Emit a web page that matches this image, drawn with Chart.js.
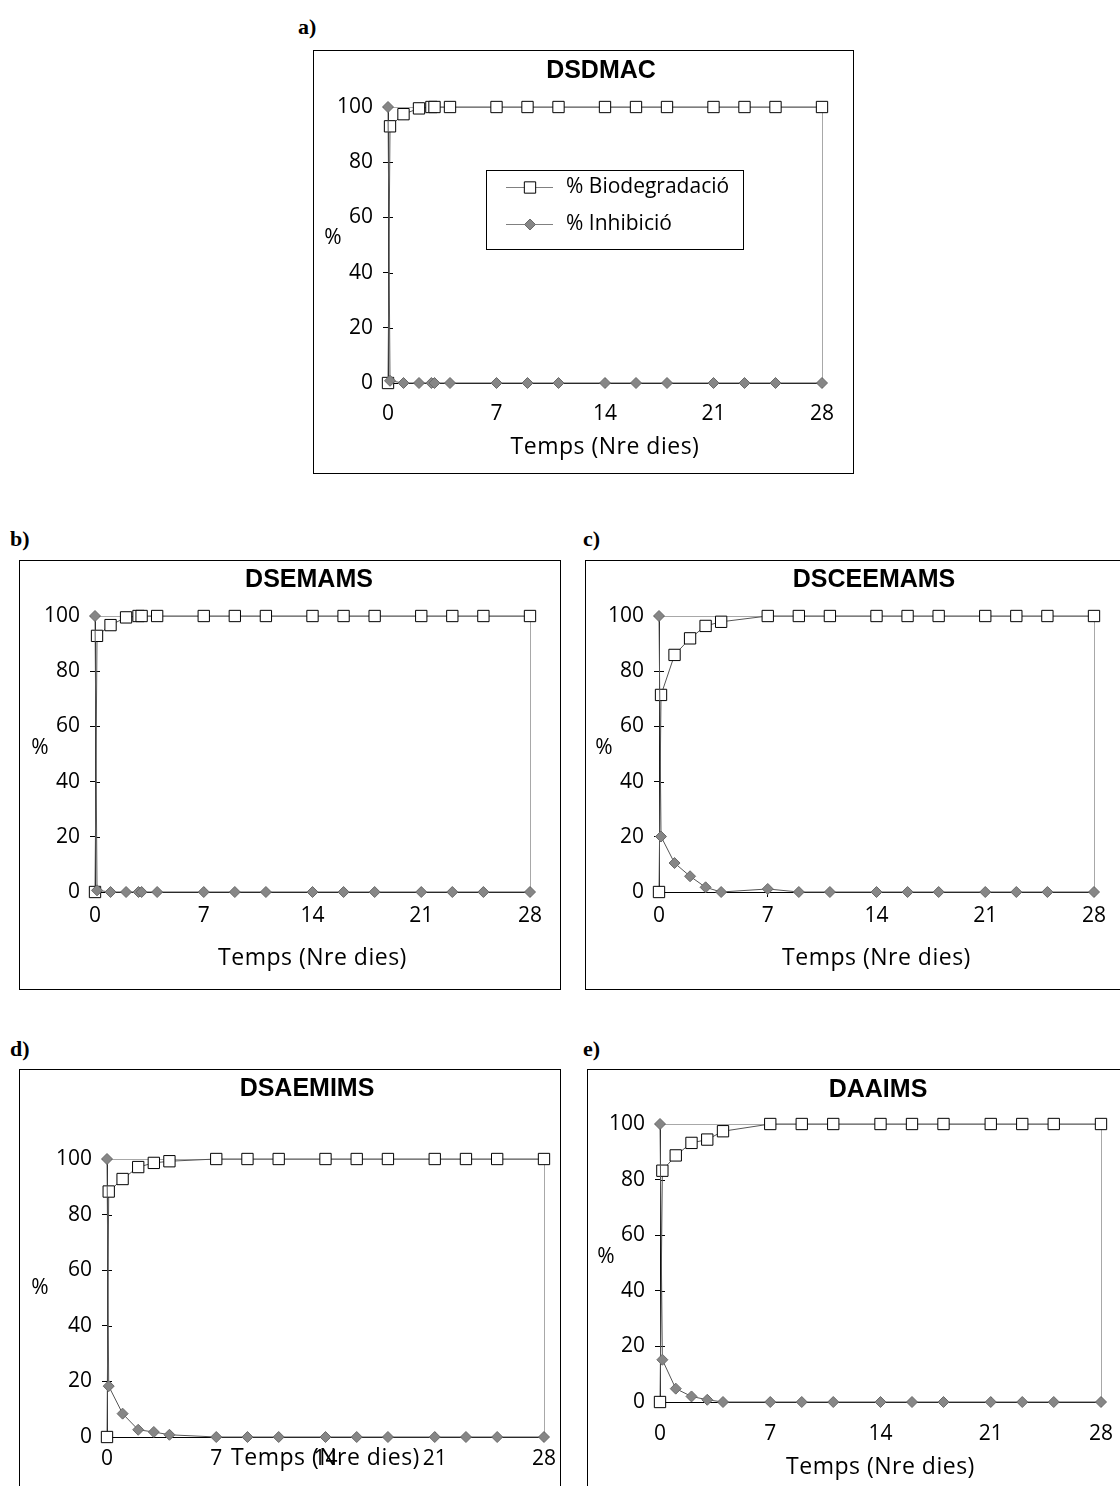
<!DOCTYPE html>
<html>
<head>
<meta charset="utf-8">
<script src="https://cdn.jsdelivr.net/npm/chart.js@4/dist/chart.umd.min.js"></script>
<style>
  body { margin: 0; width: 1120px; height: 1486px; overflow: hidden; background: #fff; position: relative; }
  .lbl { position: absolute; font: bold 22px "Liberation Serif", serif; color: #000; line-height: 1; }
  .box { position: absolute; border: 1px solid #000; box-sizing: border-box; background: #fff; }
  .box canvas { position: absolute; left: 0; top: 0; }
</style>
</head>
<body>

<div class="lbl" style="left:298px;top:16px">a)</div>
<div class="lbl" style="left:10px;top:528px">b)</div>
<div class="lbl" style="left:583px;top:528px">c)</div>
<div class="lbl" style="left:10px;top:1038px">d)</div>
<div class="lbl" style="left:583px;top:1038px">e)</div>

<div class="box" style="left:313px;top:50px;width:541px;height:424px"><canvas id="chartA" width="539" height="422"></canvas></div>
<div class="box" style="left:19px;top:560px;width:542px;height:430px"><canvas id="chartB" width="540" height="428"></canvas></div>
<div class="box" style="left:585px;top:560px;width:545px;height:430px"><canvas id="chartC" width="543" height="428"></canvas></div>
<div class="box" style="left:19px;top:1069px;width:542px;height:430px"><canvas id="chartD" width="540" height="428"></canvas></div>
<div class="box" style="left:587px;top:1069px;width:545px;height:430px"><canvas id="chartE" width="543" height="428"></canvas></div>

<script>
// Eixos comuns
const diesTicks = [0, 7, 14, 21, 28];
const pctTicks = [0, 20, 40, 60, 80, 100];
const serieNoms = ['% Biodegradació', '% Inhibició'];

// a) DSDMAC
const diesA = [0, 0.13, 1, 2, 2.8, 3, 4, 7, 9, 11, 14, 16, 18, 21, 23, 25, 28];
const biodegA = [0, 93, 97.4, 99.5, 100, 100, 100, 100, 100, 100, 100, 100, 100, 100, 100, 100, 100];
const inhibA = [100, 0.8, 0, 0, 0, 0, 0, 0, 0, 0, 0, 0, 0, 0, 0, 0, 0];

// b) DSEMAMS
const diesB = [0, 0.13, 1, 2, 2.8, 3, 4, 7, 9, 11, 14, 16, 18, 21, 23, 25, 28];
const biodegB = [0, 92.8, 96.7, 99.5, 100, 100, 100, 100, 100, 100, 100, 100, 100, 100, 100, 100, 100];
const inhibB = [100, 0.6, 0, 0, 0, 0, 0, 0, 0, 0, 0, 0, 0, 0, 0, 0, 0];

// c) DSCEEMAMS
const diesC = [0, 0.13, 1, 2, 3, 4, 7, 9, 11, 14, 16, 18, 21, 23, 25, 28];
const biodegC = [0, 71.4, 85.9, 91.9, 96.4, 97.9, 100, 100, 100, 100, 100, 100, 100, 100, 100, 100];
const inhibC = [100, 20.1, 10.5, 5.7, 1.7, 0, 1.1, 0, 0, 0, 0, 0, 0, 0, 0, 0];

// d) DSAEMIMS
const diesD = [0, 0.11, 1, 2, 3, 4, 7, 9, 11, 14, 16, 18, 21, 23, 25, 28];
const biodegD = [0, 88.3, 92.8, 97.1, 98.6, 99.2, 100, 100, 100, 100, 100, 100, 100, 100, 100, 100];
const inhibD = [100, 18.3, 8.4, 2.6, 1.8, 0.8, 0, 0, 0, 0, 0, 0, 0, 0, 0, 0];

// e) DAAIMS
const diesE = [0, 0.15, 1, 2, 3, 4, 7, 9, 11, 14, 16, 18, 21, 23, 25, 28];
const biodegE = [0, 83.2, 88.7, 93.2, 94.4, 97.4, 100, 100, 100, 100, 100, 100, 100, 100, 100, 100];
const inhibE = [100, 15.2, 4.8, 2.0, 0.8, 0, 0, 0, 0, 0, 0, 0, 0, 0, 0, 0];

const tickFont = { family: '"Open Sans", "Noto Sans", sans-serif', size: 21 };
const titleFont = 'bold 25px "Liberation Sans", Arial, sans-serif';
const textFont = '21px "Open Sans", "Noto Sans", sans-serif';
const axisFont = '23px "Open Sans", "Noto Sans", sans-serif';

// Desenha vores de l'àrea, marques internes, títols i llegenda
const decor = {
  id: 'decor',
  beforeDatasetsDraw(chart, args, o) {
    const { ctx, chartArea: a, scales: { x, y } } = chart;
    ctx.save();
    ctx.lineWidth = 1;
    ctx.strokeStyle = '#a8a8a8';
    ctx.beginPath();
    ctx.moveTo(a.left, Math.round(a.top) + 0.5);
    ctx.lineTo(Math.round(a.right) + 0.5, Math.round(a.top) + 0.5);
    ctx.lineTo(Math.round(a.right) + 0.5, a.bottom);
    ctx.stroke();
    ctx.strokeStyle = '#000';
    ctx.beginPath();
    pctTicks.forEach(v => {
      const py = Math.round(y.getPixelForValue(v)) + 0.5;
      ctx.moveTo(a.left, py);
      ctx.lineTo(a.left + 5, py);
    });
    diesTicks.forEach(v => {
      const px = Math.round(x.getPixelForValue(v)) + 0.5;
      ctx.moveTo(px, a.bottom);
      ctx.lineTo(px, a.bottom - 5);
    });
    ctx.stroke();
    ctx.restore();
  },
  afterDraw(chart, args, o) {
    const { ctx, chartArea: a } = chart;
    ctx.save();
    ctx.fillStyle = '#000';
    ctx.textAlign = 'center';
    ctx.textBaseline = 'middle';
    ctx.font = titleFont;
    ctx.fillText(o.title, o.titleX, o.titleY);
    ctx.font = textFont;
    ctx.fillText('%', o.pctX, o.pctY);
    // títol de l'eix x centrat sobre l'àrea
    ctx.font = axisFont;
    if ('letterSpacing' in ctx) ctx.letterSpacing = '0.5px';
    ctx.fillText('Temps (Nre dies)', (a.left + a.right) / 2, o.tempsY);
    if ('letterSpacing' in ctx) ctx.letterSpacing = '0px';

    if (o.legend) {
      const L = o.legend;
      ctx.font = textFont;
      ctx.strokeStyle = '#000';
      ctx.lineWidth = 1;
      ctx.strokeRect(L.x + 0.5, L.y + 0.5, L.w, L.h);
      chart.data.datasets.forEach((ds, i) => {
        const ly = L.y + L.rows[i] + 0.5;
        ctx.strokeStyle = '#808080';
        ctx.beginPath();
        ctx.moveTo(L.x + 20, ly);
        ctx.lineTo(L.x + 67, ly);
        ctx.stroke();
        ctx.fillStyle = ds.pointBackgroundColor;
        ctx.strokeStyle = ds.pointBorderColor;
        Chart.helpers.drawPoint(ctx, { pointStyle: ds.pointStyle, radius: ds.pointRadius, borderWidth: 1, rotation: 0 }, L.x + 44, ly);
        ctx.fillStyle = '#000';
        ctx.textAlign = 'left';
        ctx.fillText(ds.label, L.x + 80, ly);
      });
    }
    ctx.restore();
  }
};

function makeChart(id, dies, biodeg, inhib, box) {
  const ctx = document.getElementById(id).getContext('2d');
  const w = ctx.canvas.width, h = ctx.canvas.height;
  return new Chart(ctx, {
    type: 'scatter',
    data: {
      datasets: [{
        label: serieNoms[0],
        data: dies.map((d, i) => ({ x: d, y: biodeg[i] })),
        showLine: true,
        borderColor: '#555',
        borderWidth: 1,
        pointStyle: 'rect',
        pointRadius: 8,
        pointBackgroundColor: '#fff',
        pointBorderColor: '#000',
        pointBorderWidth: 1,
        clip: false,
        order: 1
      }, {
        label: serieNoms[1],
        data: dies.map((d, i) => ({ x: d, y: inhib[i] })),
        showLine: true,
        borderColor: '#555',
        borderWidth: 1,
        pointStyle: 'rectRot',
        pointRadius: 5.5,
        pointBackgroundColor: '#868686',
        pointBorderColor: '#6a6a6a',
        pointBorderWidth: 1,
        clip: false,
        order: 0
      }]
    },
    options: {
      responsive: false,
      animation: false,
      events: [],
      layout: { padding: { left: 0, top: box.top, right: w - box.right, bottom: 0 } },
      plugins: {
        legend: { display: false },
        tooltip: { enabled: false },
        decor: box.text
      },
      scales: {
        x: {
          type: 'linear',
          min: 0, max: 28,
          afterBuildTicks: s => { s.ticks = diesTicks.map(v => ({ value: v })); },
          afterFit: s => { s.height = h - box.bottom; },
          border: { color: '#000', width: 1 },
          grid: { drawOnChartArea: false, drawTicks: true, tickLength: 5, color: '#000' },
          ticks: { color: '#000', font: tickFont, padding: box.xPad, maxRotation: 0, autoSkip: false }
        },
        y: {
          type: 'linear',
          min: 0, max: 100,
          afterBuildTicks: s => { s.ticks = pctTicks.map(v => ({ value: v })); },
          afterFit: s => { s.width = box.left; },
          border: { color: '#000', width: 1 },
          grid: { drawOnChartArea: false, drawTicks: true, tickLength: 5, color: '#000' },
          ticks: { color: '#000', font: tickFont, padding: 10, autoSkip: false }
        }
      }
    },
    plugins: [decor]
  });
}

makeChart('chartA', diesA, biodegA, inhibA, {
  left: 74, right: 508, top: 56, bottom: 332, xPad: 13,
  text: { title: 'DSDMAC', titleX: 287, titleY: 20, pctX: 19, pctY: 187, tempsY: 396,
    legend: { x: 172, y: 119, w: 257, h: 79, rows: [17, 54] } }
});
makeChart('chartB', diesB, biodegB, inhibB, {
  left: 75, right: 510, top: 55, bottom: 331, xPad: 6,
  text: { title: 'DSEMAMS', titleX: 289, titleY: 19, pctX: 20, pctY: 187, tempsY: 397 }
});
makeChart('chartC', diesC, biodegC, inhibC, {
  left: 73, right: 508, top: 55, bottom: 331, xPad: 6,
  text: { title: 'DSCEEMAMS', titleX: 288, titleY: 19, pctX: 18, pctY: 187, tempsY: 397 }
});
makeChart('chartD', diesD, biodegD, inhibD, {
  left: 87, right: 525, top: 89, bottom: 367, xPad: 4,
  text: { title: 'DSAEMIMS', titleX: 287, titleY: 19, pctX: 20, pctY: 218, tempsY: 388 }
});
makeChart('chartE', diesE, biodegE, inhibE, {
  left: 72, right: 513, top: 54, bottom: 332, xPad: 14,
  text: { title: 'DAAIMS', titleX: 290, titleY: 20, pctX: 18, pctY: 187, tempsY: 397 }
});
</script>
</body>
</html>
